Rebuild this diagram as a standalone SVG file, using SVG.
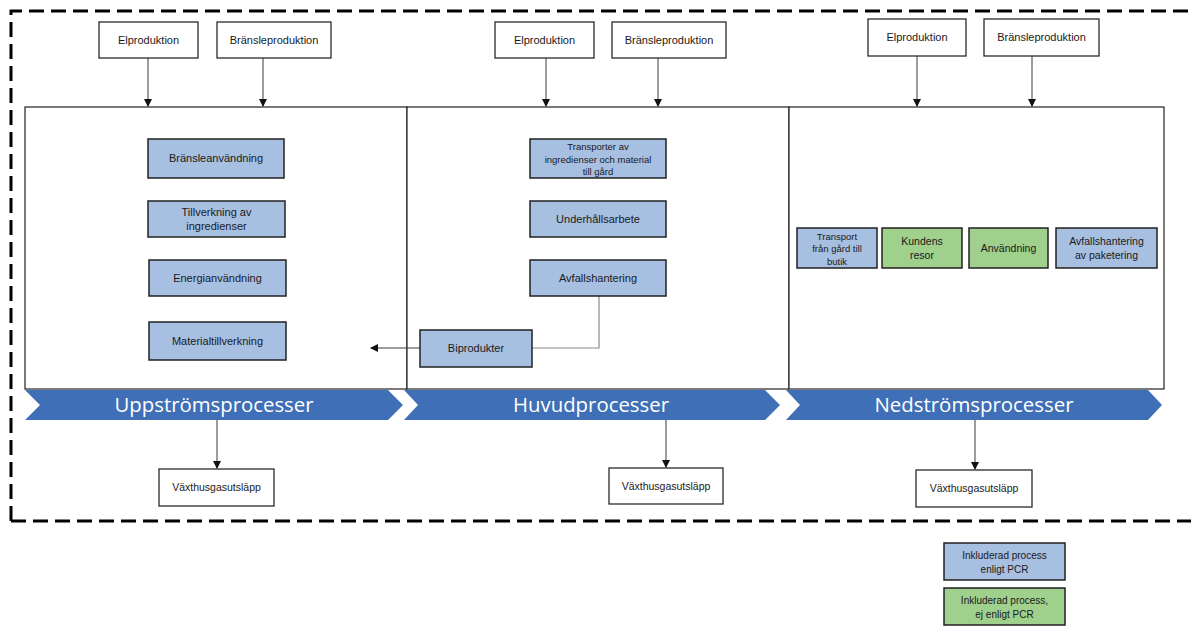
<svg xmlns="http://www.w3.org/2000/svg" width="1191" height="626" viewBox="0 0 1191 626">
<style>
.t{font-family:"Liberation Sans",Arial,sans-serif;fill:#1a1a1a;text-anchor:middle}
.wb{fill:#ffffff;stroke:#2a2a2a;stroke-width:1.3}
.bb{fill:#a7bfe1;stroke:#222222;stroke-width:1.5}
.gb{fill:#9fd08c;stroke:#222222;stroke-width:1.5}
.fr{fill:#ffffff;stroke:#222222;stroke-width:1.2}
.ch{fill:#3f6fb6}
.cht{font-family:"Open Sans","Liberation Sans",Arial,sans-serif;fill:#ffffff;text-anchor:middle;font-size:20px}
.ln{fill:none;stroke:#3a3a3a;stroke-width:1}
.lg{fill:none;stroke:#8a8a8a;stroke-width:1.2}
</style>
<defs>
<marker id="ah" markerWidth="8" markerHeight="8" refX="7" refY="4" orient="auto" markerUnits="userSpaceOnUse">
<path d="M0,0 L8,4 L0,8 Z" fill="#111111"/>
</marker>
</defs>
<rect width="1191" height="626" fill="#ffffff"/>
<path d="M11,521 L11,11 L1191,11 M11,521 L1191,521" fill="none" stroke="#000000" stroke-width="3" stroke-dasharray="15,7"/>

<g id="frames">
<rect class="fr" x="25" y="107" width="382" height="282"/>
<rect class="fr" x="407" y="107" width="382" height="282"/>
<rect class="fr" x="789" y="107" width="375" height="282"/>
</g>

<g id="connectors">
<line class="ln" x1="148" y1="58" x2="148" y2="106" marker-end="url(#ah)"/>
<line class="ln" x1="263" y1="58" x2="263" y2="106" marker-end="url(#ah)"/>
<line class="ln" x1="546" y1="58" x2="546" y2="106" marker-end="url(#ah)"/>
<line class="ln" x1="658" y1="58" x2="658" y2="106" marker-end="url(#ah)"/>
<line class="ln" x1="917" y1="56" x2="917" y2="106" marker-end="url(#ah)"/>
<line class="ln" x1="1032" y1="56" x2="1032" y2="106" marker-end="url(#ah)"/>
<polyline class="lg" points="599,296 599,348 532,348"/>
<line class="ln" x1="420" y1="348" x2="371" y2="348" marker-end="url(#ah)"/>
<line class="ln" x1="217" y1="420" x2="217" y2="468" marker-end="url(#ah)"/>
<line class="ln" x1="666" y1="420" x2="666" y2="467" marker-end="url(#ah)"/>
<line class="ln" x1="975" y1="420" x2="975" y2="469" marker-end="url(#ah)"/>
</g>

<g id="chevron-upp">
<polygon class="ch" points="25,390 388,390 403,405 388,420 25,420 40,405"/>
<text class="cht" x="214" y="412" textLength="199" lengthAdjust="spacingAndGlyphs">Uppströmsprocesser</text>
</g>
<g id="chevron-huvud">
<polygon class="ch" points="404,390 765,390 780,405 765,420 404,420 418,405"/>
<text class="cht" x="591" y="412" textLength="156" lengthAdjust="spacingAndGlyphs">Huvudprocesser</text>
</g>
<g id="chevron-ned">
<polygon class="ch" points="786,390 1148,390 1162,405 1148,420 786,420 800,405"/>
<text class="cht" x="974" y="412" textLength="199" lengthAdjust="spacingAndGlyphs">Nedströmsprocesser</text>
</g>

<g id="el-1"><rect class="wb" x="99" y="22" width="99" height="36"/><text class="t" x="148.5" y="44" font-size="11">Elproduktion</text></g>
<g id="br-1"><rect class="wb" x="217" y="22" width="114" height="36"/><text class="t" x="274" y="44" font-size="11">Bränsleproduktion</text></g>
<g id="el-2"><rect class="wb" x="495" y="22" width="99" height="36"/><text class="t" x="544.5" y="44" font-size="11">Elproduktion</text></g>
<g id="br-2"><rect class="wb" x="612" y="22" width="114" height="36"/><text class="t" x="669" y="44" font-size="11">Bränsleproduktion</text></g>
<g id="el-3"><rect class="wb" x="868" y="19" width="98" height="37"/><text class="t" x="917" y="41" font-size="11">Elproduktion</text></g>
<g id="br-3"><rect class="wb" x="984" y="19" width="115" height="37"/><text class="t" x="1041.5" y="41" font-size="11">Bränsleproduktion</text></g>

<g id="bransleanvandning"><rect class="bb" x="148" y="139" width="136" height="39"/><text class="t" x="216" y="162" font-size="11">Bränsleanvändning</text></g>
<g id="tillverkning"><rect class="bb" x="148" y="201" width="137" height="36"/><text class="t" x="216.5" y="216" font-size="11">Tillverkning av</text><text class="t" x="216.5" y="230" font-size="11">ingredienser</text></g>
<g id="energianvandning"><rect class="bb" x="149" y="260" width="137" height="36"/><text class="t" x="217.5" y="282" font-size="11">Energianvändning</text></g>
<g id="materialtillverkning"><rect class="bb" x="149" y="322" width="137" height="38"/><text class="t" x="217.5" y="345" font-size="11">Materialtillverkning</text></g>

<g id="transporter"><rect class="bb" x="530" y="139" width="136" height="39"/><text class="t" x="598" y="150" font-size="9.5">Transporter av</text><text class="t" x="598" y="163" font-size="9.5">ingredienser och material</text><text class="t" x="598" y="175" font-size="9.5">till gård</text></g>
<g id="underhall"><rect class="bb" x="530" y="201" width="136" height="36"/><text class="t" x="598" y="223" font-size="11">Underhållsarbete</text></g>
<g id="avfallshantering"><rect class="bb" x="530" y="260" width="136" height="36"/><text class="t" x="598" y="282" font-size="11">Avfallshantering</text></g>
<g id="biprodukter"><rect class="bb" x="420" y="330" width="112" height="37"/><text class="t" x="476" y="352" font-size="11">Biprodukter</text></g>

<g id="transport-butik"><rect class="bb" x="797" y="228" width="80" height="40"/><text class="t" x="837" y="240" font-size="9.5">Transport</text><text class="t" x="837" y="252" font-size="9.5">från gård till</text><text class="t" x="837" y="265" font-size="9.5">butik</text></g>
<g id="kundens-resor"><rect class="gb" x="882" y="228" width="80" height="40"/><text class="t" x="922" y="245" font-size="10.5">Kundens</text><text class="t" x="922" y="259" font-size="10.5">resor</text></g>
<g id="anvandning"><rect class="gb" x="969" y="228" width="79" height="40"/><text class="t" x="1008.5" y="252" font-size="10.5">Användning</text></g>
<g id="avfall-paketering"><rect class="bb" x="1056" y="228" width="101" height="40"/><text class="t" x="1106.5" y="245" font-size="10.5">Avfallshantering</text><text class="t" x="1106.5" y="259" font-size="10.5">av paketering</text></g>

<g id="vaxthus-1"><rect class="wb" x="159" y="469" width="115" height="37"/><text class="t" x="216.5" y="491" font-size="10.5">Växthusgasutsläpp</text></g>
<g id="vaxthus-2"><rect class="wb" x="609" y="468" width="114" height="36"/><text class="t" x="666" y="490" font-size="10.5">Växthusgasutsläpp</text></g>
<g id="vaxthus-3"><rect class="wb" x="916" y="470" width="116" height="37"/><text class="t" x="974" y="492" font-size="10.5">Växthusgasutsläpp</text></g>

<g id="legend-blue"><rect class="bb" x="944" y="543" width="121" height="37"/><text class="t" x="1004.5" y="559" font-size="10">Inkluderad process</text><text class="t" x="1004.5" y="573" font-size="10">enligt PCR</text></g>
<g id="legend-green"><rect class="gb" x="944" y="588" width="121" height="37"/><text class="t" x="1004.5" y="604" font-size="10">Inkluderad process,</text><text class="t" x="1004.5" y="618" font-size="10">ej enligt PCR</text></g>
</svg>
